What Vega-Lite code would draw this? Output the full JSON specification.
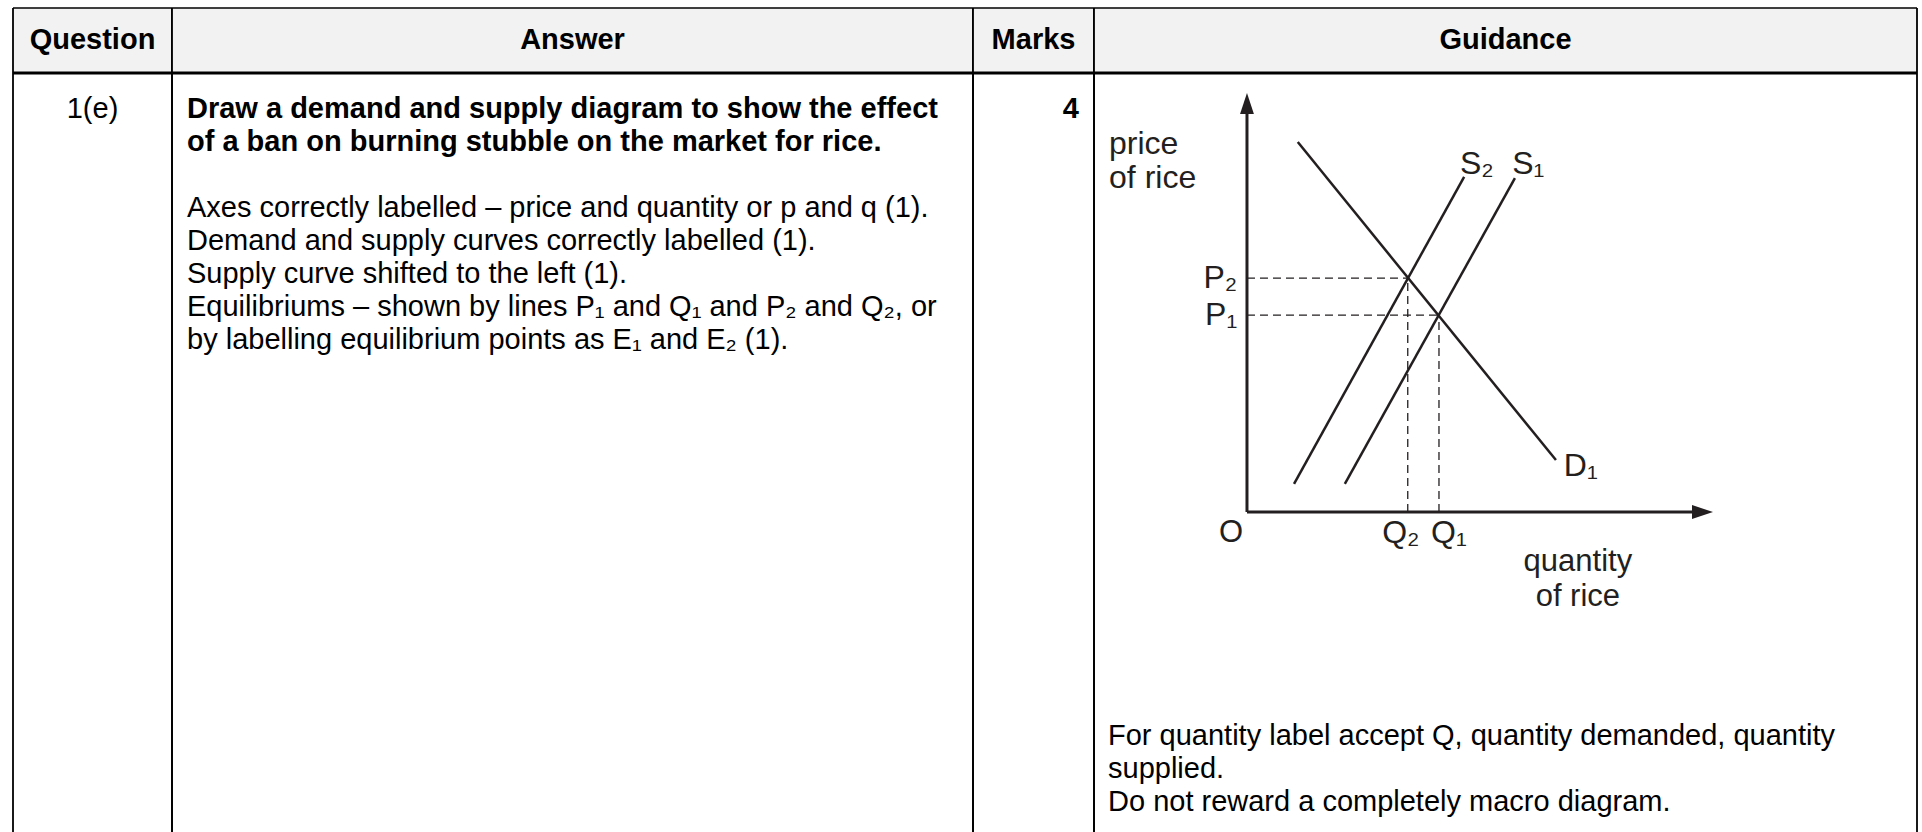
{
  "$schema": "https://vega.github.io/schema/vega-lite/v6.json",
  "background": "white",
  "padding": {"left": 11, "top": 7, "right": 0, "bottom": 0},
  "bounds": "flush",
  "spacing": 0,
  "config": {
    "view": {"stroke": null},
    "font": "Liberation Sans",
    "text": {"font": "Liberation Sans", "color": "black"}
  },
  "hconcat": [
    {
      "width": 159, "height": 827,
      "layer": [
        {"data": {"values": [{"heading": "Question"}]}, "mark": {"type": "rect", "color": "#f2f2f2"},
         "encoding": {"x": {"datum": 0, "type": "quantitative", "scale": {"domain": [0, 1]}, "axis": null}, "x2": {"datum": 1}, "y": {"datum": -2.0606, "type": "quantitative", "scale": {"domain": [-2.0606, 23.0], "reverse": true, "nice": false, "zero": false}, "axis": null}, "y2": {"datum": -0.0909}}},
        {"data": {"values": [{"heading": "Question"}]}, "mark": {"type": "text", "fontSize": 29, "fontWeight": "bold", "baseline": "middle", "align": "center"},
         "encoding": {"x": {"datum": 0.5, "type": "quantitative"}, "y": {"datum": -1.076, "type": "quantitative"}, "text": {"field": "heading"}}},
        {"data": {"values": [{"n": 1, "text": "1(e)"}]}, "mark": {"type": "text", "fontSize": 29, "baseline": "middle", "align": "center"},
         "encoding": {"x": {"datum": 0.5, "type": "quantitative"}, "y": {"field": "n", "type": "quantitative"}, "text": {"field": "text"}}},
        {"data": {"values": [{}]}, "mark": {"type": "rule", "strokeWidth": 1.4, "color": "black"},
         "encoding": {"x": {"datum": 0, "type": "quantitative"}, "x2": {"datum": 1}, "y": {"datum": -2.0606, "type": "quantitative"}}},
        {"data": {"values": [{}]}, "mark": {"type": "rule", "strokeWidth": 3.2, "color": "black"},
         "encoding": {"x": {"datum": 0, "type": "quantitative"}, "x2": {"datum": 1}, "y": {"datum": -0.0909, "type": "quantitative"}}},
        {"data": {"values": [{}]}, "mark": {"type": "rule", "strokeWidth": 1.8, "color": "black"},
         "encoding": {"x": {"datum": 0, "type": "quantitative"}, "y": {"datum": -2.0606, "type": "quantitative"}, "y2": {"datum": 23.0}}},
        {"data": {"values": [{}]}, "mark": {"type": "rule", "strokeWidth": 1.8, "color": "black"},
         "encoding": {"x": {"datum": 1, "type": "quantitative"}, "y": {"datum": -2.0606, "type": "quantitative"}, "y2": {"datum": 23.0}}}
      ]
    },
    {
      "width": 801, "height": 827,
      "layer": [
        {"data": {"values": [{"heading": "Answer"}]}, "mark": {"type": "rect", "color": "#f2f2f2"},
         "encoding": {"x": {"datum": 0, "type": "quantitative", "scale": {"domain": [0, 1]}, "axis": null}, "x2": {"datum": 1}, "y": {"datum": -2.0606, "type": "quantitative", "scale": {"domain": [-2.0606, 23.0], "reverse": true, "nice": false, "zero": false}, "axis": null}, "y2": {"datum": -0.0909}}},
        {"data": {"values": [{"heading": "Answer"}]}, "mark": {"type": "text", "fontSize": 29, "fontWeight": "bold", "baseline": "middle", "align": "center"},
         "encoding": {"x": {"datum": 0.5, "type": "quantitative"}, "y": {"datum": -1.076, "type": "quantitative"}, "text": {"field": "heading"}}},
        {"data": {"values": [
            {"n": 1, "text": "Draw a demand and supply diagram to show the effect"},
            {"n": 2, "text": "of a ban on burning stubble on the market for rice."}
          ]},
         "mark": {"type": "text", "fontSize": 29, "fontWeight": "bold", "baseline": "middle", "align": "left", "dx": 15},
         "encoding": {"x": {"datum": 0, "type": "quantitative"}, "y": {"field": "n", "type": "quantitative"}, "text": {"field": "text"}}},
        {"data": {"values": [
            {"n": 4, "text": "Axes correctly labelled – price and quantity or p and q (1)."},
            {"n": 5, "text": "Demand and supply curves correctly labelled (1)."},
            {"n": 6, "text": "Supply curve shifted to the left (1)."},
            {"n": 7, "text": "Equilibriums – shown by lines P₁ and Q₁ and P₂ and Q₂, or"},
            {"n": 8, "text": "by labelling equilibrium points as E₁ and E₂ (1)."}
          ]},
         "mark": {"type": "text", "fontSize": 29, "baseline": "middle", "align": "left", "dx": 15},
         "encoding": {"x": {"datum": 0, "type": "quantitative"}, "y": {"field": "n", "type": "quantitative"}, "text": {"field": "text"}}},
        {"data": {"values": [{}]}, "mark": {"type": "rule", "strokeWidth": 1.4, "color": "black"},
         "encoding": {"x": {"datum": 0, "type": "quantitative"}, "x2": {"datum": 1}, "y": {"datum": -2.0606, "type": "quantitative"}}},
        {"data": {"values": [{}]}, "mark": {"type": "rule", "strokeWidth": 3.2, "color": "black"},
         "encoding": {"x": {"datum": 0, "type": "quantitative"}, "x2": {"datum": 1}, "y": {"datum": -0.0909, "type": "quantitative"}}},
        {"data": {"values": [{}]}, "mark": {"type": "rule", "strokeWidth": 1.8, "color": "black"},
         "encoding": {"x": {"datum": 0, "type": "quantitative"}, "y": {"datum": -2.0606, "type": "quantitative"}, "y2": {"datum": 23.0}}},
        {"data": {"values": [{}]}, "mark": {"type": "rule", "strokeWidth": 1.8, "color": "black"},
         "encoding": {"x": {"datum": 1, "type": "quantitative"}, "y": {"datum": -2.0606, "type": "quantitative"}, "y2": {"datum": 23.0}}}
      ]
    },
    {
      "width": 121, "height": 827,
      "layer": [
        {"data": {"values": [{"heading": "Marks"}]}, "mark": {"type": "rect", "color": "#f2f2f2"},
         "encoding": {"x": {"datum": 0, "type": "quantitative", "scale": {"domain": [0, 1]}, "axis": null}, "x2": {"datum": 1}, "y": {"datum": -2.0606, "type": "quantitative", "scale": {"domain": [-2.0606, 23.0], "reverse": true, "nice": false, "zero": false}, "axis": null}, "y2": {"datum": -0.0909}}},
        {"data": {"values": [{"heading": "Marks"}]}, "mark": {"type": "text", "fontSize": 29, "fontWeight": "bold", "baseline": "middle", "align": "center"},
         "encoding": {"x": {"datum": 0.5, "type": "quantitative"}, "y": {"datum": -1.076, "type": "quantitative"}, "text": {"field": "heading"}}},
        {"data": {"values": [{"n": 1, "text": "4"}]}, "mark": {"type": "text", "fontSize": 29, "fontWeight": "bold", "baseline": "middle", "align": "right", "dx": -15},
         "encoding": {"x": {"datum": 1, "type": "quantitative"}, "y": {"field": "n", "type": "quantitative"}, "text": {"field": "text"}}},
        {"data": {"values": [{}]}, "mark": {"type": "rule", "strokeWidth": 1.4, "color": "black"},
         "encoding": {"x": {"datum": 0, "type": "quantitative"}, "x2": {"datum": 1}, "y": {"datum": -2.0606, "type": "quantitative"}}},
        {"data": {"values": [{}]}, "mark": {"type": "rule", "strokeWidth": 3.2, "color": "black"},
         "encoding": {"x": {"datum": 0, "type": "quantitative"}, "x2": {"datum": 1}, "y": {"datum": -0.0909, "type": "quantitative"}}},
        {"data": {"values": [{}]}, "mark": {"type": "rule", "strokeWidth": 1.8, "color": "black"},
         "encoding": {"x": {"datum": 0, "type": "quantitative"}, "y": {"datum": -2.0606, "type": "quantitative"}, "y2": {"datum": 23.0}}},
        {"data": {"values": [{}]}, "mark": {"type": "rule", "strokeWidth": 1.8, "color": "black"},
         "encoding": {"x": {"datum": 1, "type": "quantitative"}, "y": {"datum": -2.0606, "type": "quantitative"}, "y2": {"datum": 23.0}}}
      ]
    },
    {
      "width": 823, "height": 827,
      "layer": [
        {
          "layer": [
            {"data": {"values": [{"heading": "Guidance"}]}, "mark": {"type": "rect", "color": "#f2f2f2"},
             "encoding": {"x": {"datum": 0, "type": "quantitative", "scale": {"domain": [0, 1]}, "axis": null}, "x2": {"datum": 1}, "y": {"datum": -2.0606, "type": "quantitative", "scale": {"domain": [-2.0606, 23.0], "reverse": true, "nice": false, "zero": false}, "axis": null}, "y2": {"datum": -0.0909}}},
            {"data": {"values": [{"heading": "Guidance"}]}, "mark": {"type": "text", "fontSize": 29, "fontWeight": "bold", "baseline": "middle", "align": "center"},
             "encoding": {"x": {"datum": 0.5, "type": "quantitative"}, "y": {"datum": -1.076, "type": "quantitative"}, "text": {"field": "heading"}}},
            {"data": {"values": [
                {"n": 20, "text": "For quantity label accept Q, quantity demanded, quantity"},
                {"n": 21, "text": "supplied."},
                {"n": 22, "text": "Do not reward a completely macro diagram."}
              ]},
             "mark": {"type": "text", "fontSize": 29, "baseline": "middle", "align": "left", "dx": 14},
             "encoding": {"x": {"datum": 0, "type": "quantitative"}, "y": {"field": "n", "type": "quantitative"}, "text": {"field": "text"}}},
            {"data": {"values": [{}]}, "mark": {"type": "rule", "strokeWidth": 1.4, "color": "black"},
             "encoding": {"x": {"datum": 0, "type": "quantitative"}, "x2": {"datum": 1}, "y": {"datum": -2.0606, "type": "quantitative"}}},
            {"data": {"values": [{}]}, "mark": {"type": "rule", "strokeWidth": 3.2, "color": "black"},
             "encoding": {"x": {"datum": 0, "type": "quantitative"}, "x2": {"datum": 1}, "y": {"datum": -0.0909, "type": "quantitative"}}},
            {"data": {"values": [{}]}, "mark": {"type": "rule", "strokeWidth": 1.8, "color": "black"},
             "encoding": {"x": {"datum": 0, "type": "quantitative"}, "y": {"datum": -2.0606, "type": "quantitative"}, "y2": {"datum": 23.0}}},
            {"data": {"values": [{}]}, "mark": {"type": "rule", "strokeWidth": 1.8, "color": "black"},
             "encoding": {"x": {"datum": 1, "type": "quantitative"}, "y": {"datum": -2.0606, "type": "quantitative"}, "y2": {"datum": 23.0}}}
          ]
        },
        {
          "layer": [
            {
              "data": {"values": [
                {"axis": "price", "q": 0, "p": 0, "q2": 0, "p2": 96},
                {"axis": "quantity", "q": 0, "p": 0, "q2": 96, "p2": 0}
              ]},
              "mark": {"type": "rule", "strokeWidth": 3, "color": "#231f20"},
              "encoding": {
                "x": {"field": "q", "type": "quantitative", "scale": {"domain": [-32.83, 143.78], "nice": false, "zero": false}, "axis": null},
                "y": {"field": "p", "type": "quantitative", "scale": {"domain": [-77.09, 120.29], "nice": false, "zero": false}, "axis": null},
                "x2": {"field": "q2"},
                "y2": {"field": "p2"}
              }
            },
            {
              "data": {"values": [
                {"dir": "up", "q": 0, "p": 95},
                {"dir": "right", "q": 95.5, "p": 0}
              ]},
              "mark": {"type": "point", "filled": true, "color": "#231f20", "opacity": 1, "size": 1764, "strokeWidth": 0},
              "encoding": {
                "x": {"field": "q", "type": "quantitative"},
                "y": {"field": "p", "type": "quantitative"},
                "shape": {"field": "dir", "type": "nominal", "scale": {"domain": ["up", "right"], "range": ["M0,-1L0.33,0L-0.33,0Z", "M1,0L0,-0.33L0,0.33Z"]}, "legend": null}
              }
            },
            {
              "data": {"values": [
                {"curve": "D1", "q": 10.9, "p": 88.3},
                {"curve": "D1", "q": 66.3, "p": 12.4},
                {"curve": "S2", "q": 10.1, "p": 6.7},
                {"curve": "S2", "q": 46.6, "p": 80.0},
                {"curve": "S1", "q": 21.0, "p": 6.7},
                {"curve": "S1", "q": 57.5, "p": 79.7}
              ]},
              "mark": {"type": "line", "strokeWidth": 2.5, "color": "#231f20"},
              "encoding": {
                "x": {"field": "q", "type": "quantitative"},
                "y": {"field": "p", "type": "quantitative"},
                "detail": {"field": "curve", "type": "nominal"}
              }
            },
            {
              "data": {"values": [
                {"eq": "E1", "q": 41.2, "p": 47.0, "q0": 0, "p0": 0},
                {"eq": "E2", "q": 34.5, "p": 55.8, "q0": 0, "p0": 0}
              ]},
              "mark": {"type": "rule", "strokeWidth": 1.3, "color": "#231f20", "strokeDash": [8, 5]},
              "encoding": {
                "x": {"field": "q0", "type": "quantitative"},
                "x2": {"field": "q"},
                "y": {"field": "p", "type": "quantitative"}
              }
            },
            {
              "data": {"values": [
                {"eq": "E1", "q": 41.2, "p": 47.0, "q0": 0, "p0": 0},
                {"eq": "E2", "q": 34.5, "p": 55.8, "q0": 0, "p0": 0}
              ]},
              "mark": {"type": "rule", "strokeWidth": 1.3, "color": "#231f20", "strokeDash": [8, 5]},
              "encoding": {
                "x": {"field": "q", "type": "quantitative"},
                "y": {"field": "p0", "type": "quantitative"},
                "y2": {"field": "p"}
              }
            },
            {
              "data": {"values": [
                {"label": "price", "q": -29.6, "p": 87.8},
                {"label": "of rice", "q": -29.6, "p": 79.7},
                {"label": "S₂", "q": 45.7, "p": 83.1},
                {"label": "S₁", "q": 56.9, "p": 83.1},
                {"label": "D₁", "q": 68.0, "p": 11.0},
                {"label": "Q₂", "q": 29.0, "p": -5.0},
                {"label": "Q₁", "q": 39.5, "p": -5.0}
              ]},
              "mark": {"type": "text", "fontSize": 32, "color": "#231f20", "baseline": "middle", "align": "left"},
              "encoding": {
                "x": {"field": "q", "type": "quantitative"},
                "y": {"field": "p", "type": "quantitative"},
                "text": {"field": "label"}
              }
            },
            {
              "data": {"values": [
                {"label": "P₂", "q": -2.1, "p": 55.8},
                {"label": "P₁", "q": -2.1, "p": 47.0}
              ]},
              "mark": {"type": "text", "fontSize": 32, "color": "#231f20", "baseline": "middle", "align": "right"},
              "encoding": {
                "x": {"field": "q", "type": "quantitative"},
                "y": {"field": "p", "type": "quantitative"},
                "text": {"field": "label"}
              }
            },
            {
              "data": {"values": [
                {"label": "O", "q": -3.4, "p": -5.0},
                {"label": "quantity", "q": 71.0, "p": -12.0},
                {"label": "of rice", "q": 71.0, "p": -20.3}
              ]},
              "mark": {"type": "text", "fontSize": 31, "color": "#231f20", "baseline": "middle", "align": "center"},
              "encoding": {
                "x": {"field": "q", "type": "quantitative"},
                "y": {"field": "p", "type": "quantitative"},
                "text": {"field": "label"}
              }
            }
          ]
        }
      ],
      "resolve": {"scale": {"x": "independent", "y": "independent"}}
    }
  ]
}
